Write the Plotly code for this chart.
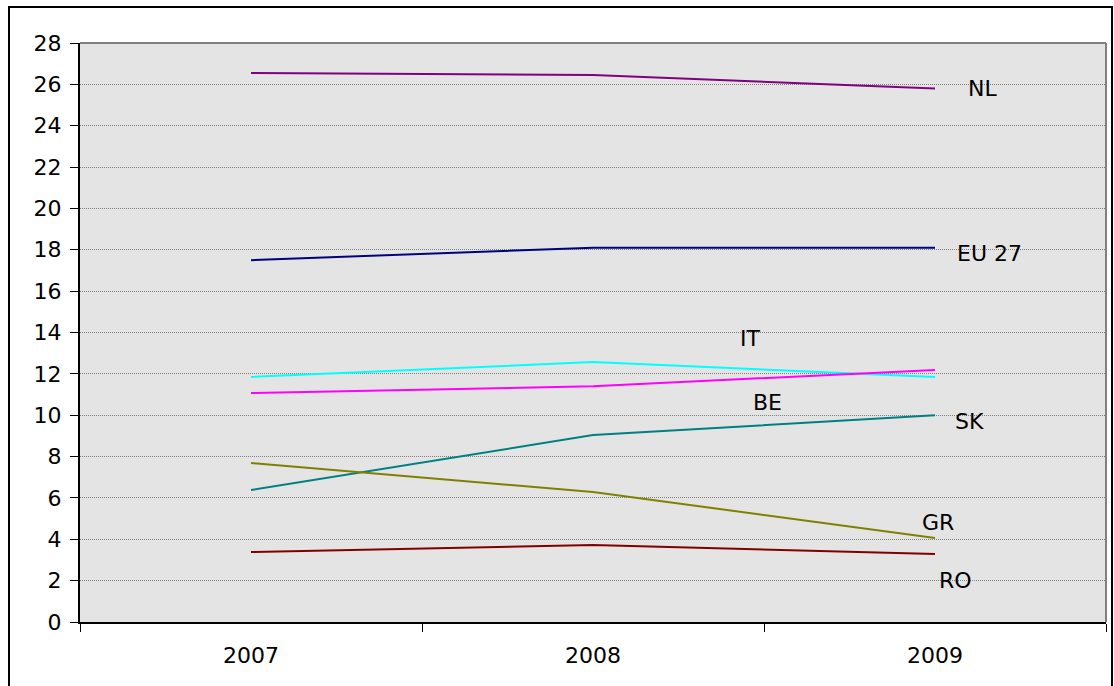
import plotly.graph_objects as go

years = ["2007", "2008", "2009"]

nl = [26.55, 26.45, 25.8]
eu27 = [17.5, 18.1, 18.1]
it = [11.85, 12.57, 11.85]
be = [11.07, 11.4, 12.19]
sk = [6.38, 9.04, 10.0]
gr = [7.69, 6.29, 4.06]
ro = [3.38, 3.72, 3.29]

series = [
    ("NL", nl, "#800080"),
    ("EU 27", eu27, "#000080"),
    ("IT", it, "#00FFFF"),
    ("BE", be, "#FF00FF"),
    ("SK", sk, "#008080"),
    ("GR", gr, "#808000"),
    ("RO", ro, "#800000"),
]

# free-floating series labels (category index, value)
label_pos = {
    "NL": (2.14, 25.8),
    "EU 27": (2.16, 17.8),
    "IT": (1.46, 13.7),
    "BE": (1.51, 10.6),
    "SK": (2.10, 9.7),
    "GR": (2.01, 4.8),
    "RO": (2.06, 2.0),
}

fig = go.Figure()
for name, vals, color in series:
    fig.add_trace(go.Scatter(
        x=years, y=vals, mode="lines", name=name,
        line=dict(color=color, width=2), showlegend=False,
    ))

for name, (lx, ly) in label_pos.items():
    fig.add_annotation(x=lx, y=ly, text=name, showarrow=False,
                       font=dict(size=22, color="black"))

FONT = "DejaVu Sans, Verdana, sans-serif"

fig.update_layout(
    width=1114, height=686,
    margin=dict(l=80, r=8, t=43, b=64),
    paper_bgcolor="white",
    plot_bgcolor="#E4E4E4",
    font=dict(family=FONT, size=22, color="black"),
    xaxis=dict(
        type="category",
        range=[-0.5, 2.5],
        showgrid=False, zeroline=False,
        showline=True, linecolor="black", linewidth=2,
        ticks="outside", ticklen=8, tickwidth=1, tickcolor="black",
        tickson="boundaries",
        ticklabelstandoff=13,
    ),
    yaxis=dict(
        range=[0, 28], dtick=2, tick0=0,
        showgrid=True, gridcolor="#808080", gridwidth=1, griddash="1px,1px",
        zeroline=False,
        showline=True, linecolor="black", linewidth=2,
        ticks="outside", ticklen=8, tickwidth=1, tickcolor="black",
        ticklabelstandoff=4,
    ),
    shapes=[
        # plot-area top and right border
        dict(type="line", xref="paper", yref="paper", x0=0, x1=1, y0=1, y1=1,
             line=dict(color="#808080", width=2)),
        dict(type="line", xref="paper", yref="paper", x0=1, x1=1, y0=0, y1=1,
             line=dict(color="#808080", width=2)),
        # chart frame
        dict(type="rect", xref="paper", yref="paper",
             x0=(9 - 80) / 1026, x1=(1112 - 80) / 1026,
             y0=(622 - 690) / 579, y1=(622 - 7) / 579,
             line=dict(color="black", width=2), layer="below"),
    ],
)

fig.write_html("out.html")
